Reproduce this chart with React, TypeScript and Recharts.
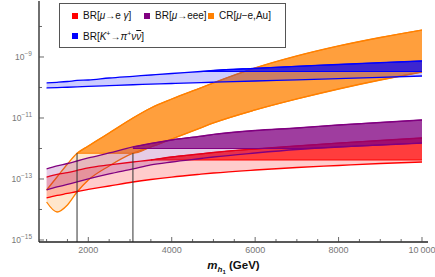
import { Area, ComposedChart, ReferenceLine, XAxis, YAxis } from "recharts";

// heavy-neutrino mass (GeV)
const mass = [1000, 1250, 1500, 1730, 2000, 2500, 3070, 3500, 4000, 4700, 5000, 6000, 7000, 8000, 9000, 10000];

// BR[mu -> e gamma]
const megLow = [2.38e-14, 2.88e-14, 3.35e-14, 3.89e-14, 4.53e-14, 5.89e-14, 7.97e-14, 9.63e-14, 1.16e-13, 1.44e-13, 1.57e-13, 1.97e-13, 2.38e-13, 2.77e-13, 3.22e-13, 3.61e-13];
const megHigh = [1.16e-13, 1.41e-13, 1.63e-13, 1.9e-13, 2.3e-13, 2.88e-13, 3.61e-13, 4.2e-13, 5.26e-13, 6.65e-13, 7.4e-13, 9.63e-13, 1.21e-12, 1.51e-12, 1.83e-12, 2.21e-12];
// BR[mu -> eee]
const eeeLow = [4.36e-14, 5.47e-14, 6.6e-14, 7.97e-14, 1.0e-13, 1.46e-13, 2.13e-13, 2.88e-13, 3.61e-13, 4.7e-13, 5.26e-13, 7.12e-13, 9.27e-13, 1.12e-12, 1.3e-12, 1.51e-12];
const eeeHigh = [2.13e-13, 2.67e-13, 3.22e-13, 3.89e-13, 4.88e-13, 7.12e-13, 1.12e-12, 1.46e-12, 1.9e-12, 2.53e-12, 2.88e-12, 3.89e-12, 4.7e-12, 5.89e-12, 7.12e-12, 8.6e-12];
// CR[mu - e, Au]
const auLow = [1.76e-14, 8.28e-15, 1.41e-14, 3.75e-14, 9.27e-14, 2.67e-13, 7.0e-13, 1.12e-12, 2.05e-12, 4.78e-12, 6.86e-12, 1.83e-11, 4.2e-11, 8.93e-11, 1.76e-10, 3.22e-10];
const auHigh = [4.36e-14, 1.16e-13, 3.1e-13, 7.0e-13, 1.21e-12, 3.22e-12, 1.0e-11, 2.13e-11, 4.2e-11, 9.77e-11, 1.41e-10, 4.36e-10, 1.08e-9, 2.3e-9, 4.36e-9, 7.68e-9];
// BR[K+ -> pi+ nu nubar]
const kLow = [9.63e-11, 9.93e-11, 1.02e-10, 1.05e-10, 1.09e-10, 1.15e-10, 1.23e-10, 1.28e-10, 1.35e-10, 1.45e-10, 1.49e-10, 1.63e-10, 1.79e-10, 1.96e-10, 2.16e-10, 2.38e-10];
const kHigh = [1.41e-10, 1.48e-10, 1.57e-10, 1.7e-10, 1.76e-10, 2.05e-10, 2.33e-10, 2.57e-10, 2.88e-10, 3.35e-10, 3.61e-10, 4.26e-10, 4.96e-10, 5.68e-10, 6.5e-10, 7.39e-10];

// experimental upper limits
const MEG_LIMIT = 4.2e-13;
const EEE_LIMIT = 1e-12;
const AU_LIMIT = 7e-13;
const K_LIMIT = 3.35e-10;

// masses where the Au band crosses its limit
const auCrossings = [1730, 3070];

const massTicks = [1000, 1500, 2000, 2500, 3000, 3500, 4000, 4500, 5000, 5500, 6000, 6500, 7000, 7500, 8000, 8500, 9000, 9500, 10000];
const massLabels = [2000, 4000, 6000, 8000, 10000];
const brTicks = [1e-15, 1e-14, 1e-13, 1e-12, 1e-11, 1e-10, 1e-9, 1e-8];
const brLabels = [-15, -13, -11, -9];

const X_DOMAIN = [818, 10144];
const Y_DOMAIN = [Math.pow(10, -15.066), Math.pow(10, -7.164)];

const RED = "#ff0000";
const PURPLE = "#800080";
const ORANGE = "#ff8000";
const BLUE = "#0000ff";

const above = (lo: number, hi: number, lim: number) =>
  hi >= lim ? [Math.max(lo, lim), hi] : [null, null];

const rows = mass.map((m, i) => ({
  m,
  meg: [megLow[i], megHigh[i]],
  megX: above(megLow[i], megHigh[i], MEG_LIMIT),
  eee: [eeeLow[i], eeeHigh[i]],
  eeeX: above(eeeLow[i], eeeHigh[i], EEE_LIMIT),
  au: [auLow[i], auHigh[i]],
  auX: above(auLow[i], auHigh[i], AU_LIMIT),
  k: [kLow[i], kHigh[i]],
  kX: above(kLow[i], kHigh[i], K_LIMIT),
}));

const bands = [
  { key: "au", color: ORANGE },
  { key: "meg", color: RED },
  { key: "eee", color: PURPLE },
  { key: "k", color: BLUE },
];

const legendItems = [
  { color: RED, label: <>BR[<i>μ</i>→e <i>γ</i>]</> },
  { color: PURPLE, label: <>BR[<i>μ</i>→eee]</> },
  { color: ORANGE, label: <>CR[<i>μ</i>−e,Au]</> },
  {
    color: BLUE,
    label: (
      <>
        BR[<i>K</i>
        <sup style={{ fontSize: 7 }}>+</sup>→<i>π</i>
        <sup style={{ fontSize: 7 }}>+</sup>
        <i>ν</i>
        <i style={{ textDecoration: "overline" }}>ν</i>]
      </>
    ),
  },
];
const legendSpots = [
  { left: 12, top: 12 },
  { left: 84, top: 12 },
  { left: 148, top: 12 },
  { left: 12, top: 32 },
];

const MassTick = (props: any) => {
  const { x, y, payload, top } = props;
  const major = massLabels.includes(payload.value);
  const len = major ? 5 : 3;
  return (
    <g>
      <line x1={x} x2={x} y1={y} y2={top ? y + len : y - len} stroke="#444" strokeWidth={0.8} />
      {!top && major && (
        <text x={x} y={y + 11} textAnchor="middle" fontSize={9} fill="#777">
          {payload.value === 10000 ? "10\u2009000" : payload.value}
        </text>
      )}
    </g>
  );
};

const BrTick = (props: any) => {
  const { x, y, payload, right } = props;
  const e = Math.round(Math.log10(payload.value));
  const major = brLabels.includes(e);
  const len = major ? 5 : 3;
  return (
    <g>
      <line x1={x} x2={right ? x - len : x + len} y1={y} y2={y} stroke="#444" strokeWidth={0.8} />
      {!right && major && (
        <text x={x - 7} y={y + 3} textAnchor="end" fontSize={8.5} fill="#777">
          10<tspan dy={-4} fontSize={6.5}>{"\u2212" + Math.abs(e)}</tspan>
        </text>
      )}
    </g>
  );
};

const MassTitle = (props: any) => {
  const vb = props.viewBox;
  return (
    <text x={vb.x + vb.width / 2} y={vb.y + 27} textAnchor="middle" fontSize={11.5} fontWeight="bold" fill="#111">
      <tspan fontStyle="italic">m</tspan>
      <tspan fontStyle="italic" fontSize={8} dy={3}>h</tspan>
      <tspan fontSize={6} dy={2}>1</tspan>
      <tspan dy={-5}>{"\u00a0(GeV)"}</tspan>
    </text>
  );
};

const frame = { stroke: "#222", strokeWidth: 1.3 };

export default function App() {
  return (
    <div
      style={{
        position: "absolute",
        left: 0,
        top: 0,
        width: 435,
        height: 277,
        background: "#fff",
        fontFamily: '"Liberation Sans", Arial, sans-serif',
      }}
    >
      <ComposedChart width={435} height={277} data={rows} margin={{ top: 1, right: 7, bottom: 15, left: 0 }}>
        <XAxis
          dataKey="m"
          type="number"
          domain={X_DOMAIN}
          allowDataOverflow
          ticks={massTicks}
          interval={0}
          tick={<MassTick />}
          tickLine={false}
          tickSize={0}
          tickMargin={0}
          height={20}
          axisLine={frame}
          label={(p: any) => <MassTitle {...p} />}
        />
        <XAxis
          xAxisId="top"
          orientation="top"
          dataKey="m"
          type="number"
          domain={X_DOMAIN}
          allowDataOverflow
          ticks={massTicks}
          interval={0}
          tick={<MassTick top />}
          tickLine={false}
          tickSize={0}
          tickMargin={0}
          height={0}
          axisLine={frame}
        />
        <YAxis
          type="number"
          scale="log"
          domain={Y_DOMAIN}
          allowDataOverflow
          ticks={brTicks}
          interval={0}
          tick={<BrTick />}
          tickLine={false}
          tickSize={0}
          tickMargin={0}
          width={39}
          axisLine={frame}
        />
        <YAxis
          yAxisId="right"
          orientation="right"
          type="number"
          scale="log"
          domain={Y_DOMAIN}
          allowDataOverflow
          ticks={brTicks}
          interval={0}
          tick={<BrTick right />}
          tickLine={false}
          tickSize={0}
          tickMargin={0}
          width={0}
          axisLine={frame}
        />
        {bands.flatMap((b) => [
          <Area
            key={b.key}
            dataKey={b.key}
            type="monotone"
            stroke={b.color}
            strokeWidth={1.3}
            fill={b.color}
            fillOpacity={0.2}
            dot={false}
            activeDot={false}
            isAnimationActive={false}
          />,
          <Area
            key={b.key + "X"}
            dataKey={b.key + "X"}
            type="monotone"
            stroke={b.color}
            strokeWidth={1.1}
            fill={b.color}
            fillOpacity={0.7}
            dot={false}
            activeDot={false}
            isAnimationActive={false}
          />,
        ])}
        {auCrossings.map((c) => (
          <ReferenceLine
            key={c}
            segment={[
              { x: c, y: Y_DOMAIN[0] },
              { x: c, y: AU_LIMIT },
            ]}
            stroke="#333"
            strokeWidth={1}
          />
        ))}
      </ComposedChart>
      <div
        style={{
          position: "absolute",
          left: 59,
          top: 3,
          width: 227,
          height: 45,
          boxSizing: "border-box",
          border: "1px solid #555",
          background: "#fff",
          fontSize: 10,
          color: "#111",
        }}
      >
        {legendItems.map((it, i) => (
          <div
            key={i}
            style={{
              position: "absolute",
              left: legendSpots[i].left,
              top: legendSpots[i].top - 7,
              height: 14,
              lineHeight: "14px",
              whiteSpace: "nowrap",
              display: "flex",
              alignItems: "center",
            }}
          >
            <span style={{ display: "inline-block", width: 6, height: 6, background: it.color, marginRight: 5 }} />
            <span>{it.label}</span>
          </div>
        ))}
      </div>
    </div>
  );
}
